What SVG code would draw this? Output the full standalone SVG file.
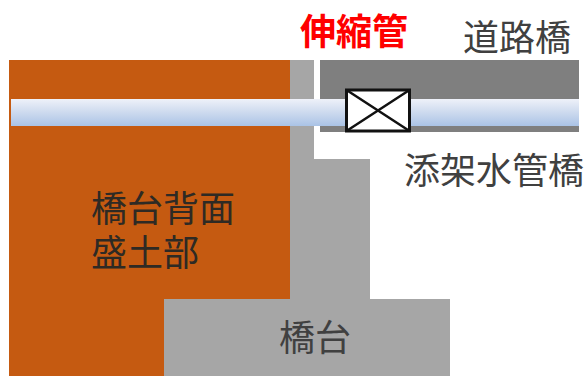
<svg xmlns="http://www.w3.org/2000/svg" width="584" height="376" viewBox="0 0 584 376">
<defs>
<linearGradient id="pipe" x1="0" y1="0" x2="0" y2="1"><stop offset="0" stop-color="#eef1f9"/><stop offset="0.45" stop-color="#d0dcef"/><stop offset="1" stop-color="#aac3e6"/></linearGradient>
</defs>
<style>
text{font-family:"Noto Sans CJK JP","Noto Sans CJK SC",sans-serif;font-size:36px;fill:#404040;font-weight:400}
.red{fill:#ff0000;font-weight:700}
.dark{fill:#2e2a24}
</style>
<rect width="584" height="376" fill="#fff"/>
<g id="embankment"><rect x="9" y="60" width="281" height="316" fill="#c55a11"/></g>
<g id="abutment"><path d="M290 60H314V159H370V299H450V376H164V299H290Z" fill="#a6a6a6"/></g>
<g id="deck"><rect x="320" y="60" width="259" height="72" fill="#7f7f7f"/></g>
<g id="pipe-bridge"><rect x="11" y="99" width="568" height="27" fill="url(#pipe)"/></g>
<g id="joint"><rect x="346.500" y="90" width="63" height="41" fill="#fff" stroke="#111" stroke-width="3"/><path d="M346.500 90L409.500 131M409.500 90L346.500 131" fill="none" stroke="#111" stroke-width="2.500"/></g>
<g id="labels">
<text class="red" x="300" y="45">伸縮管</text>
<text x="463" y="51">道路橋</text>
<text x="404" y="184">添架水管橋</text>
<text class="dark" x="91" y="222">橋台背面</text>
<text class="dark" x="91" y="266">盛土部</text>
<text x="279" y="351">橋台</text>
</g>
</svg>
